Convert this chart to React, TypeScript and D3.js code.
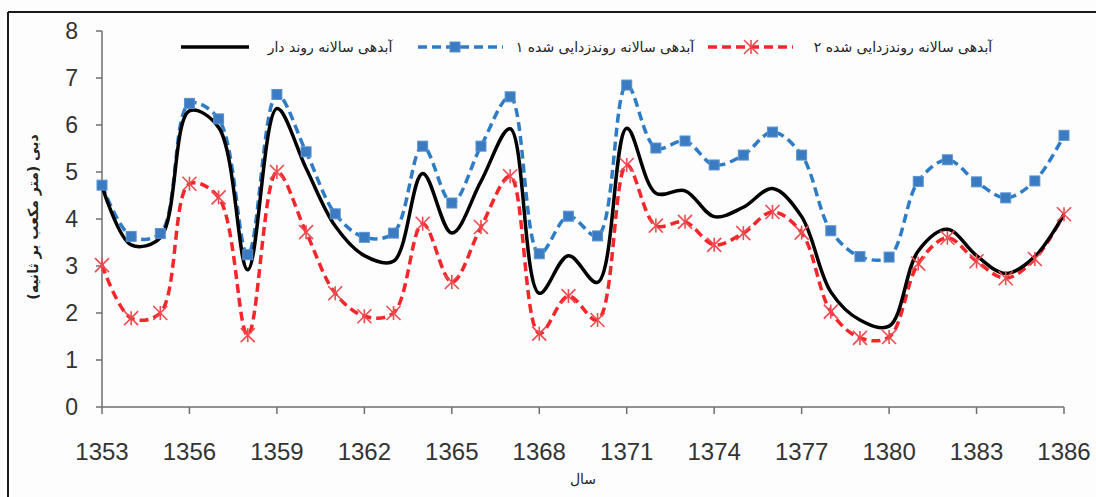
import React from "react";
import * as d3 from "d3";

const years = [1353,1354,1355,1356,1357,1358,1359,1360,1361,1362,1363,1364,1365,1366,1367,1368,1369,1370,1371,1372,1373,1374,1375,1376,1377,1378,1379,1380,1381,1382,1383,1384,1385,1386];

const trendSeries = [4.70,3.45,3.60,6.30,5.95,2.92,6.35,5.08,3.85,3.22,3.10,4.97,3.70,4.80,5.92,2.42,3.22,2.65,5.93,4.55,4.60,4.05,4.25,4.65,4.05,2.45,1.85,1.72,3.32,3.78,3.22,2.84,3.20,4.10];

const detrended1 = [4.72,3.63,3.69,6.46,6.13,3.24,6.65,5.43,4.11,3.61,3.70,5.55,4.34,5.55,6.60,3.26,4.06,3.64,6.85,5.51,5.66,5.15,5.36,5.85,5.36,3.75,3.20,3.19,4.80,5.26,4.79,4.45,4.81,5.78];

const detrended2 = [3.02,1.89,2.00,4.75,4.46,1.53,5.00,3.72,2.42,1.93,2.00,3.90,2.66,3.83,4.91,1.56,2.36,1.85,5.15,3.86,3.94,3.45,3.70,4.15,3.71,2.03,1.47,1.49,3.05,3.60,3.10,2.74,3.15,4.10];

const yTicks = [0,1,2,3,4,5,6,7,8];
const xTicks = [1353,1356,1359,1362,1365,1368,1371,1374,1377,1380,1383,1386];

const legendLabels = [
  "آبدهی سالانه روند دار",
  "آبدهی سالانه روندزدایی شده ۱",
  "آبدهی سالانه روندزدایی شده ۲",
];
const xTitle = "سال";
const yTitle = "دبی (متر مکعب بر ثانیه)";

const BLUE = "#2f7cc6";
const RED = "#f2262b";

export default function App() {
  const x = d3.scaleLinear().domain([1353, 1386]).range([102, 1064]);
  const y = d3.scaleLinear().domain([0, 8]).range([407, 31]);
  const curve = d3.curveCatmullRom.alpha(0.5);
  const line = (vals: number[]) =>
    d3.line<number>().x((_, i) => x(years[i])).y((d) => y(d)).curve(curve)(vals) || "";

  const star = (cx: number, cy: number, key: string | number, s = 7) => (
    <g key={key} stroke="#ee4a4f" strokeWidth={1.6} fill="none">
      <line x1={cx - s} y1={cy - s} x2={cx + s} y2={cy + s} />
      <line x1={cx - s} y1={cy + s} x2={cx + s} y2={cy - s} />
      <line x1={cx} y1={cy - s} x2={cx} y2={cy + s} />
    </g>
  );
  const square = (cx: number, cy: number, key: string | number, s = 5) => (
    <rect key={key} x={cx - s} y={cy - s} width={2 * s} height={2 * s} fill="#3b7bc2" stroke="#5a93cf" strokeWidth={1} />
  );

  const axisColor = "#6e6e6e";
  const legendY = 47;

  return (
    <svg width={1096} height={497} style={{ position: "absolute", left: 0, top: 0, background: "#fdfdfd" }}>
      {/* frame */}
      <line x1={8} y1={12} x2={1096} y2={12} stroke="#1a1a1a" strokeWidth={2} />
      <line x1={8} y1={12} x2={8} y2={497} stroke="#1a1a1a" strokeWidth={2} />

      {/* axes */}
      <line x1={102} y1={y(8)} x2={102} y2={y(0)} stroke={axisColor} strokeWidth={1.5} />
      <line x1={102} y1={y(0)} x2={1064} y2={y(0)} stroke={axisColor} strokeWidth={1.5} />
      {yTicks.map((t) => (
        <g key={"yt" + t}>
          <line x1={96} y1={y(t)} x2={102} y2={y(t)} stroke={axisColor} strokeWidth={1.5} />
          <text x={78} y={y(t) + 8} textAnchor="end" fontFamily="Liberation Sans, Arial, sans-serif" fontSize={23} fill="#333">
            {t}
          </text>
        </g>
      ))}
      {xTicks.map((t) => (
        <g key={"xt" + t}>
          <line x1={x(t)} y1={y(0)} x2={x(t)} y2={y(0) + 7} stroke={axisColor} strokeWidth={1.5} />
          <text x={x(t)} y={460} textAnchor="middle" fontFamily="Liberation Sans Narrow, Liberation Sans, Arial, sans-serif" fontSize={24} fill="#333">
            {t}
          </text>
        </g>
      ))}

      {/* axis titles */}
      <text x={583} y={484} textAnchor="middle" fontFamily="DejaVu Sans, sans-serif" fontSize={14} fill="#222">
        {xTitle}
      </text>
      <text transform="translate(38,217) rotate(-90)" textAnchor="middle" fontFamily="DejaVu Sans, sans-serif" fontSize={14} fontWeight="bold" fill="#222">
        {yTitle}
      </text>

      {/* series */}
      <path d={line(detrended2)} fill="none" stroke={RED} strokeWidth={3.5} strokeDasharray="9,5" />
      <path d={line(detrended1)} fill="none" stroke={BLUE} strokeWidth={3.5} strokeDasharray="9,5" />
      <path d={line(trendSeries)} fill="none" stroke="#000" strokeWidth={3.5} />
      {detrended1.map((v, i) => square(x(years[i]), y(v), "s" + i))}
      {detrended2.map((v, i) => star(x(years[i]), y(v), "r" + i))}

      {/* legend */}
      <line x1={181} y1={legendY} x2={249} y2={legendY} stroke="#000" strokeWidth={3.5} />
      <text x={330} y={legendY + 5} textAnchor="middle" fontFamily="DejaVu Sans, sans-serif" fontSize={14} fill="#222">
        {legendLabels[0]}
      </text>
      <line x1={418} y1={legendY} x2={503} y2={legendY} stroke={BLUE} strokeWidth={3.5} strokeDasharray="9,5" />
      {square(455, legendY, "ls")}
      <text x={605} y={legendY + 5} textAnchor="middle" fontFamily="DejaVu Sans, sans-serif" fontSize={14} fill="#222">
        {legendLabels[1]}
      </text>
      <line x1={708} y1={legendY} x2={793} y2={legendY} stroke={RED} strokeWidth={3.5} strokeDasharray="9,5" />
      {star(751, legendY, "lr")}
      <text x={903} y={legendY + 5} textAnchor="middle" fontFamily="DejaVu Sans, sans-serif" fontSize={14} fill="#222">
        {legendLabels[2]}
      </text>
    </svg>
  );
}
